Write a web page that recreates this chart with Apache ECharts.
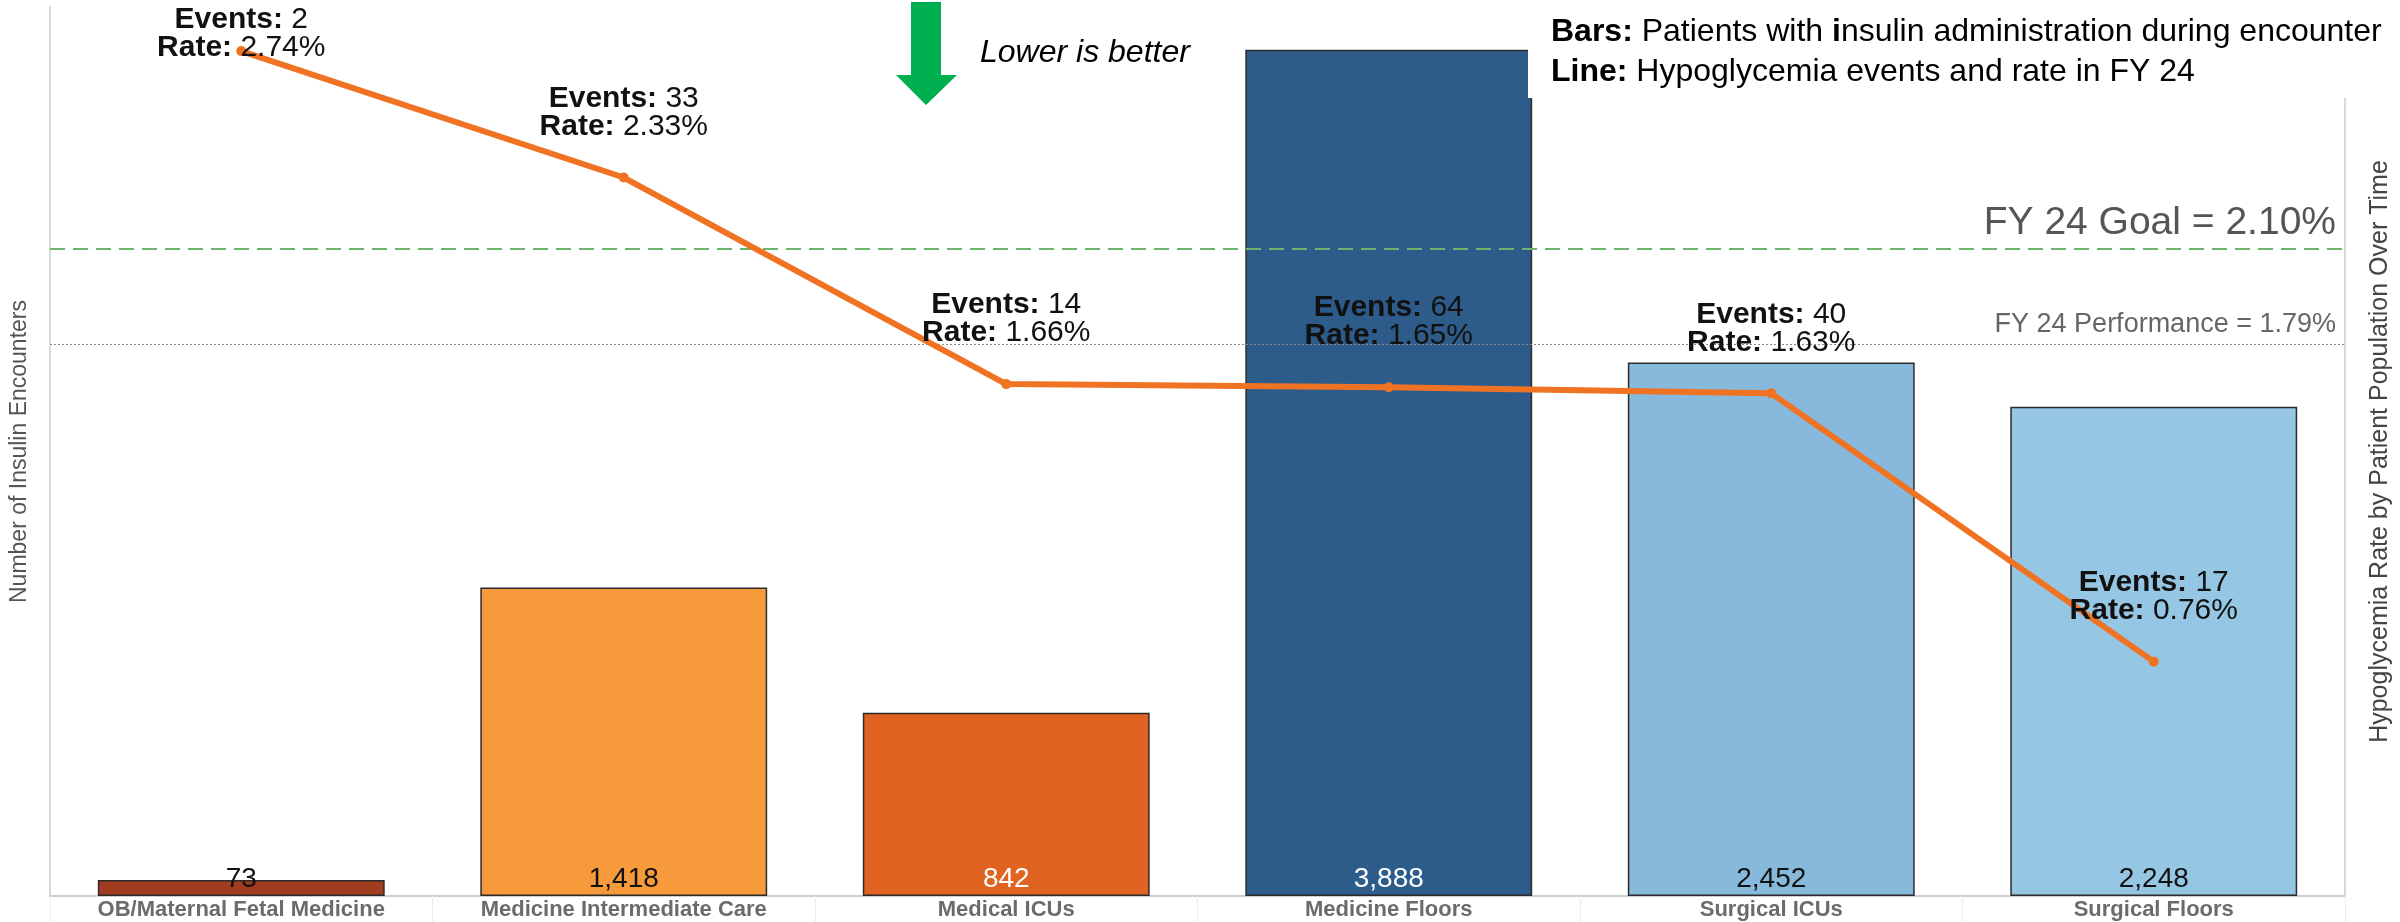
<!DOCTYPE html>
<html>
<head>
<meta charset="utf-8">
<script src="https://cdn.jsdelivr.net/npm/echarts@6/dist/echarts.min.js"></script>
<style>
  html, body { margin: 0; padding: 0; background: #ffffff; }
  #chart { width: 2400px; height: 922px; }
</style>
</head>
<body>
<div id="chart"></div>
<script>
// Patient populations on the category axis
const categories = [
  'OB/Maternal Fetal Medicine',
  'Medicine Intermediate Care',
  'Medical ICUs',
  'Medicine Floors',
  'Surgical ICUs',
  'Surgical Floors'
];
// Bars: patients with insulin administration during encounter
const encounters = [73, 1418, 842, 3888, 2452, 2248];
// Line: hypoglycemia events and rate (%) in FY 24
const events = [2, 33, 14, 64, 40, 17];
const rates = [2.74, 2.33, 1.66, 1.65, 1.63, 0.76];
// Reference lines (%)
const goalRate = 2.10;
const performanceRate = 1.79;

// Styling
const barColors = ['#A23C20', '#F79A3B', '#E06321', '#2D5C8A', '#86B9DC', '#95C6E3'];
const barValueColors = ['#111', '#111', '#fff', '#fff', '#111', '#111'];
const NARROW = '"Liberation Sans Narrow", "Arial Narrow", "Liberation Sans", Arial, sans-serif';
const SANS = '"Liberation Sans", Arial, sans-serif';
const LINE_COLOR = '#F07324';

const chart = echarts.init(document.getElementById('chart'), null, { renderer: 'canvas' });

const fmtInt = v => v.toLocaleString('en-US');

const option = {
  animation: false,
  backgroundColor: '#ffffff',
  grid: { left: 50, right: 55, top: 7, bottom: 26, containLabel: false, outerBoundsMode: 'none' },
  xAxis: {
    type: 'category',
    data: categories,
    axisLine: { show: true, lineStyle: { color: '#c8c8c8', width: 2, type: 'dotted' } },
    axisTick: { show: true, length: 26, lineStyle: { color: '#ececec', width: 1 } },
    axisLabel: {
      interval: 0,
      hideOverlap: false,
      margin: 3,
      fontFamily: NARROW,
      fontSize: 22,
      lineHeight: 22,
      fontWeight: 'bold',
      color: '#6b6b6b'
    },
    splitLine: { show: false }
  },
  yAxis: [
    {
      type: 'value',
      min: 0,
      max: 4085,
      name: 'Number of Insulin Encounters',
      nameLocation: 'middle',
      nameGap: 19,
      nameTextStyle: { fontFamily: NARROW, fontSize: 23, color: '#555' },
      axisLine: { show: true, lineStyle: { color: '#d9d9d9', width: 2 } },
      axisTick: { show: false },
      axisLabel: { show: false },
      splitLine: { show: false }
    },
    {
      type: 'value',
      min: 0,
      max: 2.883,
      position: 'right',
      name: 'Hypoglycemia Rate by Patient Population Over Time',
      nameLocation: 'middle',
      nameGap: 23,
      nameRotate: 90,
      nameTextStyle: { fontFamily: NARROW, fontSize: 25, color: '#444' },
      axisLine: { show: true, lineStyle: { color: '#d9d9d9', width: 2 } },
      axisTick: { show: false },
      axisLabel: { show: false },
      splitLine: { show: false }
    }
  ],
  series: [
    {
      name: 'Insulin Encounters',
      type: 'bar',
      yAxisIndex: 0,
      barWidth: '75%',
      data: encounters.map((v, i) => ({
        value: v,
        itemStyle: { color: barColors[i], borderColor: '#2b2b2b', borderWidth: 1.5 },
        label: { color: barValueColors[i] }
      })),
      label: {
        show: true,
        position: 'insideBottom',
        distance: 3,
        fontFamily: NARROW,
        fontSize: 28,
        formatter: p => fmtInt(p.value)
      },
      z: 2
    },
    {
      name: 'Hypoglycemia Rate',
      type: 'line',
      yAxisIndex: 1,
      data: rates.map((v, i) => i === 0
        ? { value: v, label: { offset: [0, 48] } }
        : { value: v }),
      symbol: 'circle',
      symbolSize: 10,
      lineStyle: { color: LINE_COLOR, width: 6 },
      itemStyle: { color: LINE_COLOR },
      label: {
        show: true,
        position: 'top',
        distance: 32,
        fontFamily: NARROW,
        fontSize: 30,
        lineHeight: 28,
        color: '#111',
        formatter: p => `{b|Events:} ${events[p.dataIndex]}\n{b|Rate:} ${rates[p.dataIndex].toFixed(2)}%`,
        rich: {
          b: { fontFamily: NARROW, fontSize: 30, lineHeight: 28, fontWeight: 'bold', color: '#111' }
        }
      },
      markLine: {
        silent: true,
        symbol: 'none',
        data: [
          {
            yAxis: goalRate,
            lineStyle: { color: '#6DB56D', width: 2, type: [15, 8] },
            label: {
              show: true,
              position: 'insideEndTop',
              distance: [9, 6],
              formatter: `FY 24 Goal = ${goalRate.toFixed(2)}%`,
              fontFamily: SANS,
              fontSize: 39,
              color: '#555'
            }
          },
          {
            yAxis: performanceRate,
            lineStyle: { color: '#8a8a8a', width: 1.2, type: [2, 2] },
            label: {
              show: true,
              position: 'insideEndTop',
              distance: [9, 6],
              formatter: `FY 24 Performance = ${performanceRate.toFixed(2)}%`,
              fontFamily: SANS,
              fontSize: 27,
              color: '#666'
            }
          }
        ]
      },
      z: 5
    }
  ],
  graphic: [
    // white panel behind the description text in the top-right corner
    {
      type: 'rect',
      z: 50,
      shape: { x: 1528, y: 0, width: 872, height: 98 },
      style: { fill: '#ffffff' }
    },
    {
      type: 'text',
      z: 51,
      left: 1551,
      top: 12,
      style: {
        text: '{b|Bars:} Patients with {b|i}nsulin administration during encounter\n{b|Line:} Hypoglycemia events and rate in FY 24',
        fontFamily: NARROW,
        fontSize: 32,
        lineHeight: 40,
        fill: '#000',
        rich: {
          b: { fontFamily: NARROW, fontSize: 32, lineHeight: 40, fontWeight: 'bold', fill: '#000' }
        }
      }
    },
    // "lower is better" indicator
    {
      type: 'polygon',
      z: 50,
      shape: {
        points: [[911, 2], [941, 2], [941, 75], [957, 75], [926, 105], [896, 75], [911, 75]]
      },
      style: { fill: '#00B050' }
    },
    {
      type: 'text',
      z: 51,
      left: 980,
      top: 37,
      style: {
        text: 'Lower is better',
        fontFamily: SANS,
        fontStyle: 'italic',
        fontSize: 32,
        fill: '#000'
      }
    }
  ]
};

chart.setOption(option);
</script>
</body>
</html>
